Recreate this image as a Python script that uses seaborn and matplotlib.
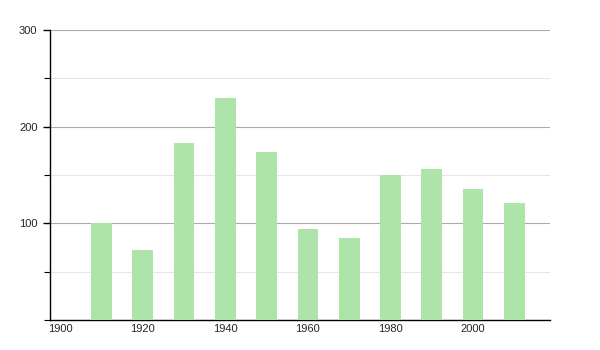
import matplotlib
matplotlib.use("Agg")
import matplotlib.pyplot as plt
from matplotlib.ticker import MultipleLocator
import seaborn as sns
import pandas as pd

years = [1910, 1920, 1930, 1940, 1950, 1960, 1970, 1980, 1990, 2000, 2010]
values = [100, 72, 183, 230, 174, 94, 85, 150, 156, 135, 121]
x_ticks = [1900, 1920, 1940, 1960, 1980, 2000]
y_ticks = [100, 200, 300]

sns.set_style("white")
plt.rcParams['font.family'] = ['Liberation Sans', 'DejaVu Sans']

df = pd.DataFrame({"year": years, "value": values})

fig = plt.figure(figsize=(6, 3.5), dpi=100)
ax = fig.add_axes([50/600, 30/350, 500/600, 290/350])

sns.barplot(data=df, x="year", y="value", native_scale=True, width=0.5,
            color="#aee4aa", saturation=1, linewidth=0, edgecolor="none",
            ax=ax, zorder=3)

ax.set_xlim(1897.6, 2018.6)
ax.set_ylim(0, 300)
ax.set_xticks(x_ticks)
ax.set_yticks(y_ticks)
ax.yaxis.set_minor_locator(MultipleLocator(50))
ax.grid(False)
ax.grid(True, which="major", axis="y", color="#aaaaaa", linewidth=0.8, zorder=1)
ax.grid(True, which="minor", axis="y", color="#e6e6e6", linewidth=0.8, zorder=1)
ax.set_axisbelow(True)

for s in ["top", "right"]:
    ax.spines[s].set_visible(False)
for s in ["left", "bottom"]:
    ax.spines[s].set_color("black")
    ax.spines[s].set_linewidth(1)

ax.tick_params(axis="y", which="major", length=5, width=1, color="black",
               labelsize=8, pad=4, left=True)
ax.tick_params(axis="y", which="minor", length=4, width=0.8, color="black", left=True)
ax.tick_params(axis="x", length=0, labelsize=8, pad=3)
ax.set_xlabel("")
ax.set_ylabel("")

fig.savefig("out.png", dpi=100)
